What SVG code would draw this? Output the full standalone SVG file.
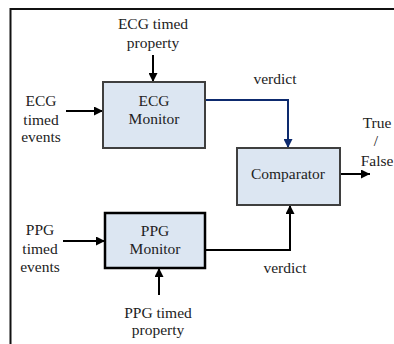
<svg xmlns="http://www.w3.org/2000/svg" width="394" height="344" viewBox="0 0 394 344">
<style>
text{font-family:'Liberation Serif','Times New Roman',serif;font-size:15.5px;fill:#222;text-anchor:middle}
.box{fill:#dce6f2;stroke:#3f3f3f;stroke-width:2}
.boxb{fill:#dce6f2;stroke:#000;stroke-width:2.5}
.c{fill:none;stroke:#000;stroke-width:2}
.cb{fill:none;stroke:#0d2a6e;stroke-width:2}
</style>
<defs>
<marker id="ah" viewBox="0 0 10 10" refX="10" refY="5" markerWidth="4.5" markerHeight="4.5" orient="auto" markerUnits="strokeWidth"><path d="M0,0 L10,5 L0,10 z" fill="#000"/></marker>
<marker id="ahb" viewBox="0 0 10 10" refX="10" refY="5" markerWidth="4.5" markerHeight="4.5" orient="auto" markerUnits="strokeWidth"><path d="M0,0 L10,5 L0,10 z" fill="#0d2a6e"/></marker>
</defs>
<rect x="0" y="0" width="394" height="344" fill="#fff"/>
<rect x="10.5" y="9" width="400" height="400" fill="none" stroke="#111" stroke-width="2"/>
<g id="connectors">
<path class="c" d="M153,55 V82" marker-end="url(#ah)"/>
<path class="c" d="M66,111 H103" marker-end="url(#ah)"/>
<path class="cb" d="M205,100 H288 V148" marker-end="url(#ahb)"/>
<path class="c" d="M340,174 H370" marker-end="url(#ah)"/>
<path class="c" d="M205,250 H290 V205" marker-end="url(#ah)"/>
<path class="c" d="M63,241 H105" marker-end="url(#ah)"/>
<path class="c" d="M159,295 V268" marker-end="url(#ah)"/>
</g>
<g id="ecg-monitor">
<rect class="box" x="103" y="82" width="102" height="66"/>
<text x="154" y="106">ECG</text>
<text x="154" y="124">Monitor</text>
</g>
<g id="comparator">
<rect class="box" x="237" y="148" width="103" height="57"/>
<text x="288" y="179">Comparator</text>
</g>
<g id="ppg-monitor">
<rect class="boxb" x="105" y="213" width="100" height="55"/>
<text x="155" y="236">PPG</text>
<text x="155" y="254">Monitor</text>
</g>
<g id="labels">
<text x="153" y="29">ECG timed</text>
<text x="153" y="48">property</text>
<text x="41" y="106">ECG</text>
<text x="41" y="125">timed</text>
<text x="41" y="142">events</text>
<text x="275" y="84">verdict</text>
<text x="377" y="128">True</text>
<text x="376" y="146">/</text>
<text x="377" y="166">False</text>
<text x="40" y="235">PPG</text>
<text x="40" y="254">timed</text>
<text x="40" y="272">events</text>
<text x="285" y="273">verdict</text>
<text x="158" y="318">PPG timed</text>
<text x="158" y="335">property</text>
</g>
</svg>
